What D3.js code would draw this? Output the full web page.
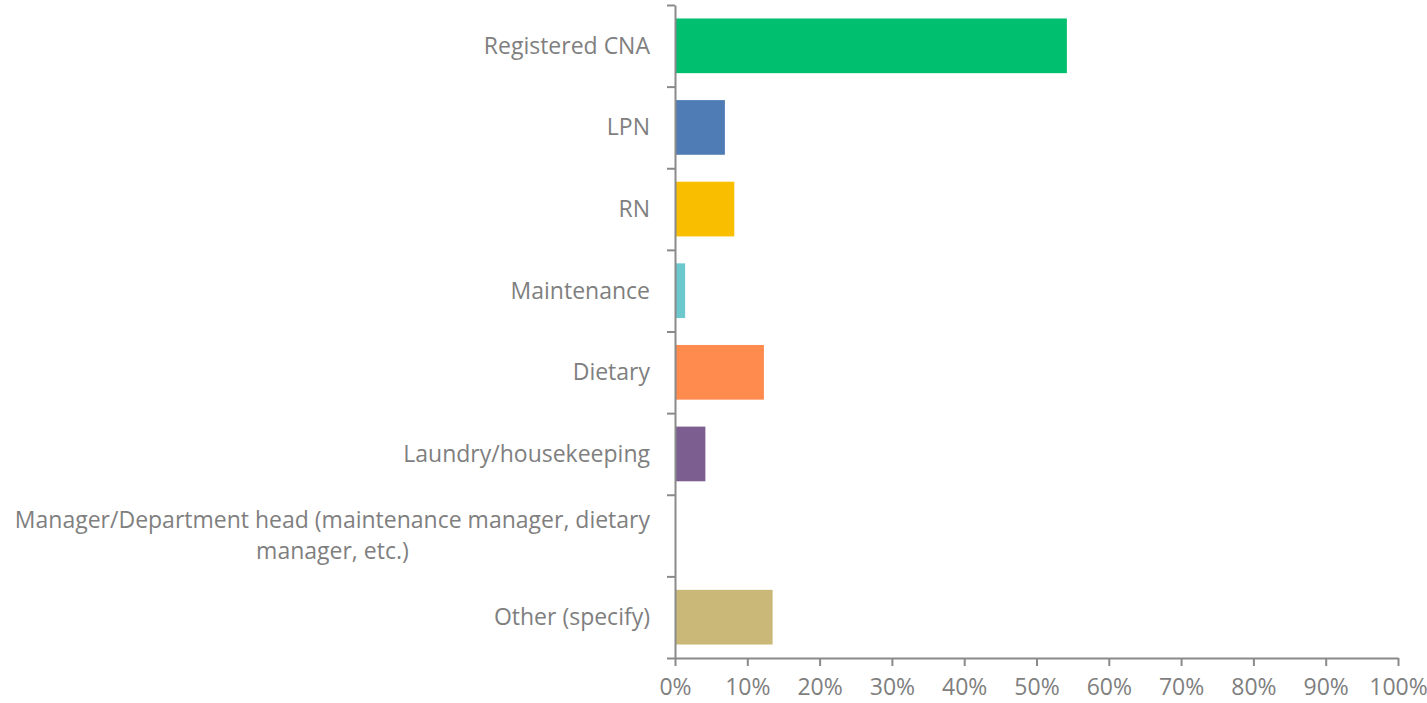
<!DOCTYPE html>
<html>
<head>
<meta charset="utf-8">
<script src="https://cdn.jsdelivr.net/npm/d3@7"></script>
<style>
  body { margin: 0; background: #fff; }
  svg text { font-family: "Open Sans", sans-serif; fill: #7f7f7f; }
</style>
</head>
<body>
<div id="chart"></div>
<script>
const categories = [
  ["Registered CNA"],
  ["LPN"],
  ["RN"],
  ["Maintenance"],
  ["Dietary"],
  ["Laundry/housekeeping"],
  ["Manager/Department head (maintenance manager, dietary", "manager, etc.)"],
  ["Other (specify)"]
];
const values = [54.2, 6.9, 8.2, 1.4, 12.3, 4.2, 0, 13.5];
const colors = ["#00bf6f", "#507cb6", "#f9be00", "#6bc8cd", "#ff8b4f", "#7d5e90", "#c9b877", "#c9b877"];
const xTicks = [0, 10, 20, 30, 40, 50, 60, 70, 80, 90, 100];

(function() {
  const W = 1427, H = 703;
  const left = 675, right = 1398, top = 5, bottom = 658;

  const svg = d3.select("#chart").append("svg")
    .attr("width", W).attr("height", H);

  const x = d3.scaleLinear().domain([0, 100]).range([left, right]);
  const y = d3.scaleBand()
    .domain(d3.range(categories.length))
    .range([top, bottom])
    .paddingInner(0.33)
    .paddingOuter(0.165);
  const yEdge = d3.scaleLinear().domain([0, categories.length]).range([top, bottom]);

  // bars
  svg.selectAll("rect.bar")
    .data(values)
    .enter().append("rect")
    .attr("class", "bar")
    .attr("x", x(0))
    .attr("y", (d, i) => y(i))
    .attr("width", d => x(d) - x(0))
    .attr("height", y.bandwidth())
    .attr("fill", (d, i) => colors[i]);

  // y axis: boundary ticks only
  const yAxis = svg.append("g")
    .attr("transform", `translate(${left},0)`)
    .call(d3.axisLeft(yEdge).tickValues(d3.range(categories.length + 1)).tickFormat("").tickSize(8).tickSizeOuter(0));
  yAxis.selectAll("path, line").attr("stroke", "#8a8a8a").attr("stroke-width", 2);

  // x axis
  const xAxis = svg.append("g")
    .attr("transform", `translate(0,${bottom})`)
    .call(d3.axisBottom(x).tickValues(xTicks).tickFormat(d => d + "%").tickSize(8).tickSizeOuter(0).tickPadding(13));
  xAxis.selectAll("path, line").attr("stroke", "#8a8a8a").attr("stroke-width", 2);
  xAxis.selectAll("text").style("font-size", "23px").style("fill", "#7f7f7f");

  // category labels
  const labels = svg.selectAll("text.cat")
    .data(categories)
    .enter().append("text")
    .attr("class", "cat")
    .attr("text-anchor", "end")
    .style("font-size", "23px");
  labels.each(function(lines, i) {
    const cy = y(i) + y.bandwidth() / 2;
    const lh = 31;
    const y0 = cy - (lines.length - 1) * lh / 2;
    lines.forEach((t, k) => {
      d3.select(this).append("tspan")
        .attr("x", 650)
        .attr("y", y0 + k * lh)
        .attr("dy", "0.35em")
        .text(t);
    });
  });
  // second line of wrapped label is centered under first
  labels.filter(d => d.length > 1).each(function() {
    const tsp = d3.select(this).selectAll("tspan").nodes();
    const w0 = tsp[0].getComputedTextLength();
    d3.select(tsp[1]).attr("x", 650 - w0 / 2).attr("text-anchor", "middle");
  });
})();
</script>
</body>
</html>
